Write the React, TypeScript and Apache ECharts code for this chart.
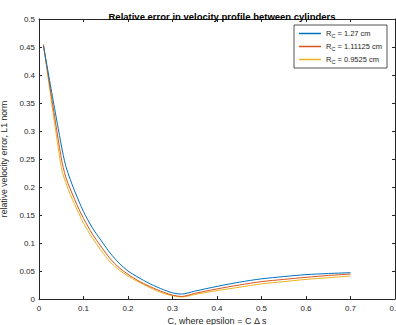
import React, { useEffect, useRef } from "react";
import * as echarts from "echarts";

const cValues = [0.01, 0.05, 0.06, 0.07, 0.08, 0.09, 0.1, 0.12, 0.14, 0.16, 0.18, 0.2, 0.22, 0.25, 0.28, 0.3, 0.32, 0.35, 0.4, 0.45, 0.5, 0.55, 0.6, 0.65, 0.7];
const errR127 = [0.452, 0.275, 0.238, 0.214, 0.193, 0.174, 0.156, 0.127, 0.104, 0.082, 0.064, 0.05, 0.04, 0.027, 0.0165, 0.011, 0.0088, 0.014, 0.0225, 0.03, 0.036, 0.04, 0.0435, 0.0455, 0.047];
const errR111125 = [0.454, 0.252, 0.218, 0.197, 0.178, 0.16, 0.144, 0.116, 0.093, 0.072, 0.056, 0.044, 0.034, 0.022, 0.012, 0.007, 0.0045, 0.01, 0.018, 0.025, 0.031, 0.035, 0.0387, 0.042, 0.0445];
const errR09525 = [0.455, 0.235, 0.208, 0.187, 0.169, 0.152, 0.135, 0.109, 0.086, 0.066, 0.052, 0.041, 0.032, 0.02, 0.01, 0.006, 0.0035, 0.008, 0.015, 0.021, 0.027, 0.031, 0.035, 0.038, 0.041];
const seriesNames = ["R{sub|C} = 1.27 cm", "R{sub|C} = 1.11125 cm", "R{sub|C} = 0.9525 cm"];
const seriesColors = ["#0072BD", "#D95319", "#EDB120"];

const FONT = "'Liberation Sans', Arial, Helvetica, sans-serif";
const AX = "#262626";

export default function App() {
  const ref = useRef<HTMLDivElement>(null);
  useEffect(() => {
    if (!ref.current) return;
    const chart = echarts.init(ref.current, undefined, { renderer: "svg" });
    const fmt = (v: number) => String(+v.toFixed(2));
    const allData = [errR127, errR111125, errR09525];
    const xBase = {
      type: "value" as const,
      min: 0,
      max: 0.8,
      interval: 0.1,
      splitLine: { show: false },
      axisLine: { show: true, onZero: false, lineStyle: { color: AX, width: 1 } },
      axisTick: { show: true, inside: true, length: 3, lineStyle: { color: AX } },
    };
    const yBase = {
      type: "value" as const,
      min: 0,
      max: 0.5,
      interval: 0.05,
      splitLine: { show: false },
      axisLine: { show: true, onZero: false, lineStyle: { color: AX, width: 1 } },
      axisTick: { show: true, inside: true, length: 3, lineStyle: { color: AX } },
    };
    chart.setOption({
      animation: false,
      backgroundColor: "#ffffff",
      textStyle: { fontFamily: FONT },
      title: {
        text: "Relative error in velocity profile between cylinders",
        left: 217,
        textAlign: "center",
        top: 6,
        textStyle: { fontSize: 9.5, fontWeight: "bold", color: "#000", fontFamily: FONT },
      },
      grid: { left: 39, right: 1, top: 19, bottom: 26, containLabel: false, outerBoundsMode: "none" },
      xAxis: [
        {
          ...xBase,
          position: "bottom",
          name: "C, where epsilon = C \u0394 s",
          nameLocation: "middle",
          nameGap: 16,
          nameTextStyle: { fontSize: 9, color: AX, fontFamily: FONT },
          axisLabel: { show: true, fontSize: 8, color: AX, margin: 5, showMaxLabel: true, showMinLabel: true, formatter: fmt, fontFamily: FONT },
        },
        { ...xBase, position: "top", axisLabel: { show: false } },
      ],
      yAxis: [
        {
          ...yBase,
          position: "left",
          name: "relative velocity error, L1 norm",
          nameLocation: "middle",
          nameGap: 29,
          nameTextStyle: { fontSize: 8.7, color: AX, fontFamily: FONT },
          axisLabel: { show: true, fontSize: 8, color: AX, margin: 4, formatter: fmt, fontFamily: FONT },
        },
        { ...yBase, position: "right", axisLabel: { show: false } },
      ],
      legend: {
        orient: "vertical",
        left: 294,
        top: 25,
        padding: [3, 5, 3, 5],
        itemGap: 2,
        itemWidth: 22,
        itemHeight: 1.5,
        icon: "rect",
        borderColor: AX,
        borderWidth: 0.8,
        backgroundColor: "#ffffff",
        data: seriesNames,
        formatter: (name: string) => name,
        textStyle: {
          fontSize: 7.5,
          color: AX,
          fontFamily: FONT,
          lineHeight: 11,
          rich: {
            sub: { fontSize: 5.5, verticalAlign: "bottom", lineHeight: 11, color: AX, fontFamily: FONT, padding: [3, 0, 0, 0] },
          },
        },
      },
      series: allData.map((vals, i) => ({
        type: "line",
        name: seriesNames[i],
        xAxisIndex: 0,
        yAxisIndex: 0,
        data: cValues.map((c, j) => [c, vals[j]]),
        showSymbol: false,
        symbol: "none",
        smooth: 0.3,
        lineStyle: { color: seriesColors[i], width: 1 },
        itemStyle: { color: seriesColors[i] },
        z: 3 - i,
      })),
    });
    return () => chart.dispose();
  }, []);
  return <div ref={ref} style={{ position: "fixed", left: 0, top: 0, width: 396, height: 325 }} />;
}
